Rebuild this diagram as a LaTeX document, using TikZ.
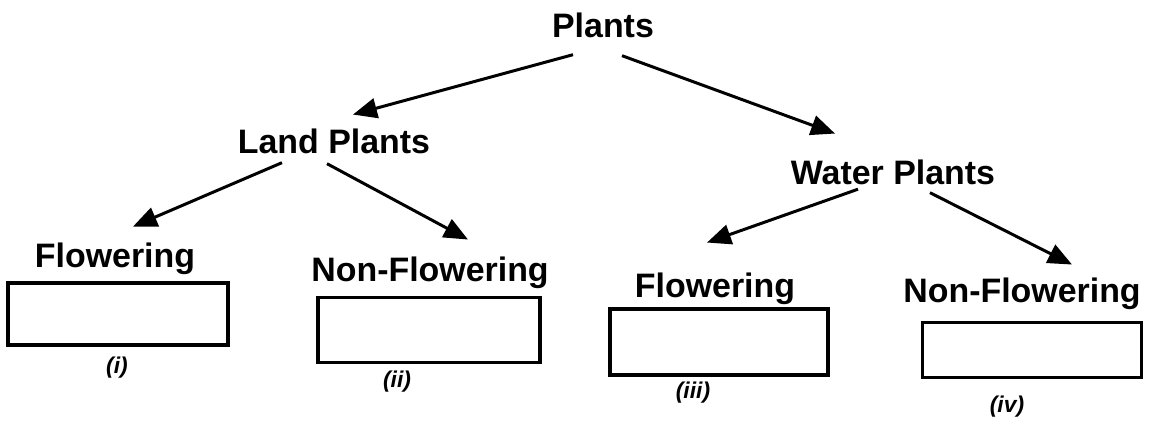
\documentclass[tikz,border=0pt]{standalone}
\usepackage{fontspec}
\setmainfont{Liberation Sans}
\usetikzlibrary{arrows.meta}
\tikzset{
	heading/.style={font=\fontsize{19.3}{23}\selectfont\bfseries, inner sep=2pt, anchor=base},
	answerbox/.style={draw, line width=1.8pt, minimum width=#1*0.02cm, inner sep=0pt},
	boxtag/.style={font=\fontsize{13}{15}\selectfont\bfseries\itshape, inner sep=1pt},
	branch/.style={line width=1.7pt, -{Triangle[length=0.48cm, width=0.4cm]}}
}

\begin{document}
\begin{tikzpicture}[x=0.02cm, y=-0.02cm]
			%%%%% START %%%%%
			\useasboundingbox (0, 0) rectangle (1150, 421);
			
			\node[heading] (plants) at (603, 38) {Plants};
			\node[heading] (land) at (334, 154) {Land Plants};
			\node[heading] (water) at (893, 185) {Water Plants};
			
			\node[heading] (flowerA) at (115, 268) {Flowering};
			\node[heading] (nonflowerA) at (430, 282) {Non-Flowering};
			\node[heading] (flowerB) at (715, 298) {Flowering};
			\node[heading] (nonflowerB) at (1022, 303) {Non-Flowering};
			
			\node[answerbox=220, minimum height=62*0.02cm] (boxA) at (118, 314) {};
			\node[answerbox=222, minimum height=65*0.02cm] (boxB) at (429, 330) {};
			\node[answerbox=218, minimum height=66*0.02cm] (boxC) at (719, 342) {};
			\node[answerbox=219, minimum height=55*0.02cm] (boxD) at (1032, 350) {};
			
			\node[boxtag] (tagA) at (117, 368) {(i)};
			\node[boxtag] (tagB) at (397, 382) {(ii)};
			\node[boxtag] (tagC) at (693, 393) {(iii)};
			\node[boxtag] (tagD) at (1007, 407) {(iv)};
			
			% arrows between the levels
			\draw[branch] ([shift={(-30, 12.5)}]plants.south) -- ([shift={(19, -11)}]land.north);
			\draw[branch] ([shift={(19, 13.5)}]plants.south) -- ([shift={(-58, -23)}]water.north);
			
			\draw[branch] ([shift={(-52, 4.5)}]land.south) -- ([shift={(18, -13)}]flowerA.north);
			\draw[branch] ([shift={(-7, 5.5)}]land.south) -- ([shift={(38, -14)}]nonflowerA.north);
			
			\draw[branch] ([shift={(-35, 0)}]water.south) -- ([shift={(-8, -27)}]flowerB.north);
			\draw[branch] ([shift={(37, 3.5)}]water.south) -- ([shift={(50, -10)}]nonflowerB.north);
			
			%%%%% END %%%%%
\end{tikzpicture}
\end{document}
